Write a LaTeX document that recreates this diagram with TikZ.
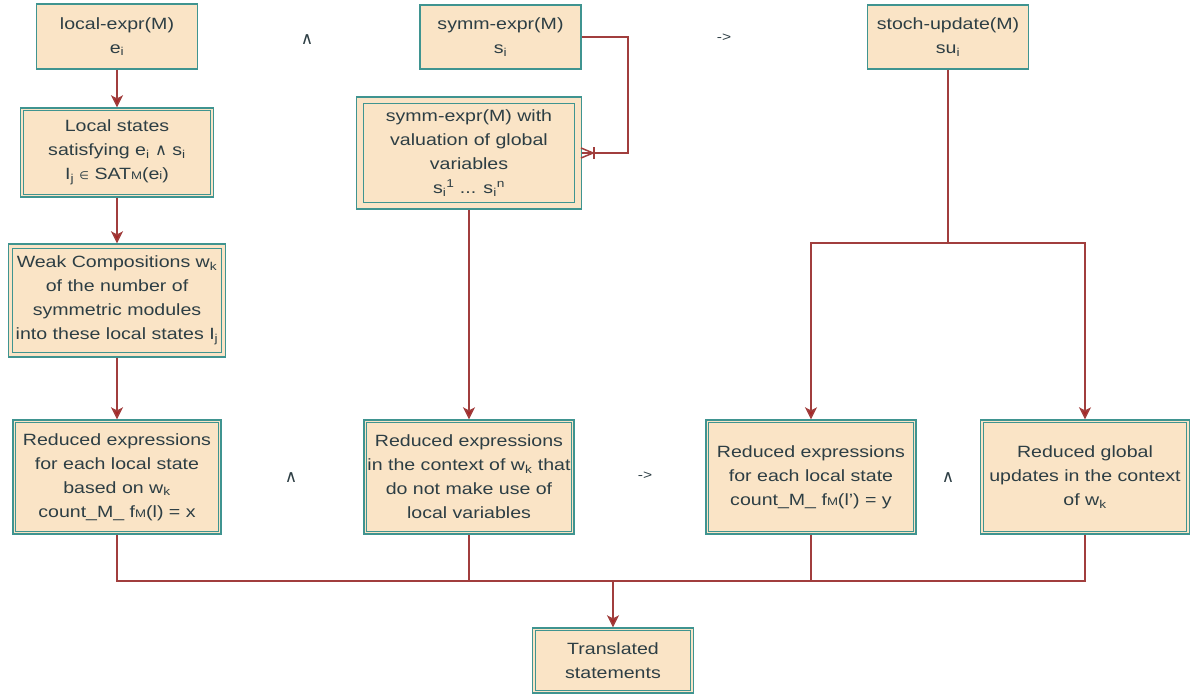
\documentclass[tikz,border=0pt]{standalone}
\usepackage{fontspec}
\setmainfont{Liberation Sans}[FakeStretch=1.2]
\newfontfamily\symfont{DejaVu Sans}
\usetikzlibrary{arrows.meta}

\definecolor{peach}{HTML}{FAE4C6}
\definecolor{tealline}{HTML}{3F9490}
\definecolor{wirered}{HTML}{A13E3D}
\definecolor{tipred}{HTML}{A82626}
\definecolor{ink}{HTML}{2D3E44}

\newcommand{\opand}{{\symfont\char"2227}}
\newcommand{\opin}{{\symfont\fontsize{11}{11}\selectfont\char"2208}}
\newcommand{\sbs}[1]{\textsubscript{#1}}
\newcommand{\sps}[1]{\textsuperscript{#1}}
\newcommand{\smallM}{{\fontsize{11}{11}\selectfont M}}

\begin{document}
\begin{tikzpicture}[x=1pt,y=-1pt,
  box/.style={draw=tealline, line width=1.4pt, fill=peach, inner sep=0pt,
    align=center, text=ink, font=\fontsize{16.3}{24}\selectfont},
  wire/.style={draw=wirered, line width=1.5pt},
  arr/.style={wire, -{Stealth[length=12pt,width=12pt,inset=3pt,fill=tipred]}},
  op/.style={text=ink, inner sep=0pt, font=\fontsize{13}{13}\selectfont},
  andop/.style={text=ink, inner sep=0pt, font=\symfont\fontsize{17}{17}\selectfont}
]
\useasboundingbox (0,0) rectangle (1204,698);

% top row
\node[box, minimum width=161pt, minimum height=65pt] (le) at (117,36.5)
  {local-expr(M)\\e\sbs{i}};
\node[box, minimum width=161pt, minimum height=64pt] (se) at (500.5,37)
  {symm-expr(M)\\s\sbs{i}};
\node[box, minimum width=161pt, minimum height=64pt] (su) at (948,37)
  {stoch-update(M)\\su\sbs{i}};

% second row
\node[box, minimum width=193pt, minimum height=89pt] (ls) at (117,152.5)
  {Local states\\satisfying e\sbs{i} \opand{} s\sbs{i}\\I\sbs{j} \opin{} SAT\smallM(e{\fontsize{11}{11}\selectfont i})};
\node[box, minimum width=225pt, minimum height=112pt] (sv) at (469,153)
  {symm-expr(M) with\\valuation of global\\variables\\s\sbs{i}\sps{1} ... s\sbs{i}\sps{n}};

% third row
\node[box, minimum width=217pt, minimum height=113pt] (wc) at (117,300.5)
  {Weak Compositions w\sbs{k}\\of the number of\\symmetric modules\\into these local states I\sbs{j}};

% reduced expressions row
\node[box, minimum width=208pt, minimum height=114pt] (r1) at (117,477)
  {Reduced expressions\\for each local state\\based on w\sbs{k}\\count\_M\_ f\smallM(l) = x};
\node[box, minimum width=210pt, minimum height=114pt] (r2) at (469,477)
  {Reduced expressions\\in the context of w\sbs{k} that\\do not make use of\\local variables};
\node[box, minimum width=210pt, minimum height=114pt] (r3) at (811,477)
  {Reduced expressions\\for each local state\\count\_M\_ f\smallM(l') = y};
\node[box, minimum width=209pt, minimum height=114pt] (r4) at (1085,477)
  {Reduced global\\updates in the context\\of w\sbs{k}};

% result
\node[box, minimum width=161pt, minimum height=65pt] (tr) at (613,660.5)
  {Translated\\statements};

% inner lines of the double-framed boxes
\foreach \n/\g in {ls/3.5, sv/7.5, wc/5, r1/3.5, r2/3.5, r3/3.5, r4/3.5, tr/3.5}
  \draw[tealline, line width=1.2pt]
    ([shift={(\g,\g)}]\n.north west) rectangle ([shift={(-\g,-\g)}]\n.south east);

% operators between the boxes
\node[andop] (o1) at (307,40) {\char"2227};
\node[op] (o2) at (724,38) {->};
\node[andop] (o3) at (291,478) {\char"2227};
\node[op] (o4) at (645,476) {->};
\node[andop] (o5) at (948,478) {\char"2227};

% left column
\draw[arr] (le) -- (ls);
\draw[arr] (ls) -- (wc);
\draw[arr] (wc) -- (r1);

% middle column
\coordinate (bendA) at (628,37);
\coordinate (bendB) at (628,153);
\draw[wire] (se.east) -- (bendA) -- (bendB) -- (sv.east);
\coordinate (cfA) at (581,148);
\coordinate (cfB) at (581,158);
\coordinate (cfTip) at (593,153);
\coordinate (barT) at (594,147);
\coordinate (barB) at (594,159);
\draw[wire] (cfA) -- (cfTip) -- (cfB);
\draw[wire] (barT) -- (barB);
\draw[arr] (sv) -- (r2);

% right column
\coordinate (split) at (948,243);
\draw[wire] (su) -- (split);
\draw[arr] (split) -| (r3);
\draw[arr] (split) -| (r4);

% collecting bus
\coordinate (bus) at (613,581);
\draw[wire] (r1) |- (bus);
\draw[wire] (r2) |- (bus);
\draw[wire] (r3) |- (bus);
\draw[wire] (r4) |- (bus);
\draw[arr] (bus) -- (tr);
\end{tikzpicture}
\end{document}
